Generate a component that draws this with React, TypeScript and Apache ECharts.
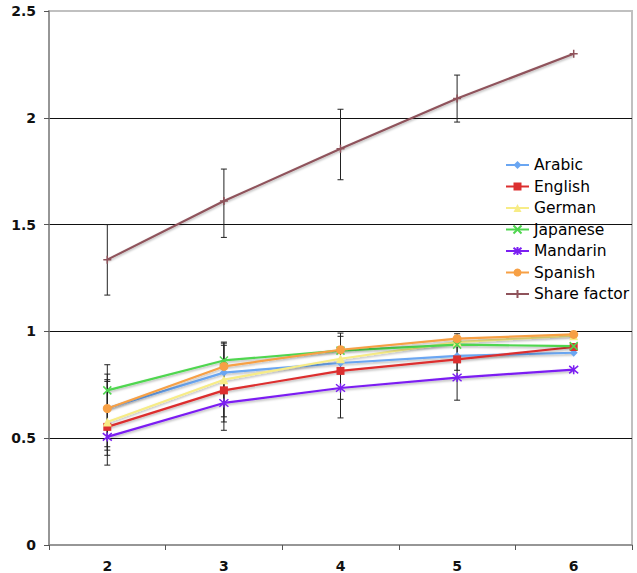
import React, { useEffect, useRef } from "react";
import * as echarts from "echarts";

const categories = ["2", "3", "4", "5", "6"];

const arabic = [0.64, 0.807, 0.852, 0.885, 0.9];
const english = [0.553, 0.724, 0.815, 0.869, 0.927];
const german = [0.576, 0.774, 0.872, 0.95, 0.98];
const japanese = [0.724, 0.864, 0.91, 0.938, 0.931];
const mandarin = [0.506, 0.665, 0.735, 0.784, 0.821];
const spanish = [0.639, 0.836, 0.914, 0.966, 0.986];
const shareFactor = [1.336, 1.61, 1.855, 2.09, 2.3];

// [category index, low, high]
const langErrorBars = [
  [0, 0.374, 0.844],
  [0, 0.42, 0.8],
  [0, 0.444, 0.774],
  [0, 0.46, 0.766],
  [1, 0.537, 0.95],
  [1, 0.576, 0.945],
  [1, 0.6, 0.935],
  [2, 0.595, 0.992],
  [2, 0.682, 0.977],
  [3, 0.678, 0.989],
  [3, 0.818, 0.97],
];
const shareErrorBars = [
  [0, 1.17, 1.5],
  [1, 1.44, 1.76],
  [2, 1.71, 2.04],
  [3, 1.98, 2.2],
];

const yTicks = { min: 0, max: 2.5, interval: 0.5 };

const CROSS = "path://M0,0L10,10M10,0L0,10";
const ASTER = "path://M0,0L10,10M10,0L0,10M5,-1L5,11";
const PLUS = "path://M0,5L10,5M5,0L5,10";

function lineSeries(name: string, data: number[], color: string, symbol: string, size: number, stroked = false) {
  return {
    name,
    type: "line",
    data,
    symbol,
    symbolSize: size,
    z: 3,
    lineStyle: {
      color,
      width: 2.2,
      shadowColor: "rgba(0,0,0,0.3)",
      shadowBlur: 2,
      shadowOffsetY: 1.5,
    },
    itemStyle: stroked
      ? { color: "rgba(0,0,0,0)", borderColor: color, borderWidth: 1.5 }
      : { color, borderWidth: 0 },
    emphasis: { disabled: true },
  };
}

function errorSeries(data: number[][]) {
  return {
    type: "custom",
    data,
    z: 2,
    silent: true,
    encode: { x: 0, y: [1, 2] },
    renderItem: (_p: any, api: any) => {
      const x = api.value(0);
      const lo = api.coord([x, api.value(1)]);
      const hi = api.coord([x, api.value(2)]);
      const w = 3;
      const style = { stroke: "#222", lineWidth: 1 };
      return {
        type: "group",
        children: [
          { type: "line", shape: { x1: lo[0], y1: lo[1], x2: hi[0], y2: hi[1] }, style },
          { type: "line", shape: { x1: lo[0] - w, y1: lo[1], x2: lo[0] + w, y2: lo[1] }, style },
          { type: "line", shape: { x1: hi[0] - w, y1: hi[1], x2: hi[0] + w, y2: hi[1] }, style },
        ],
      };
    },
  };
}

export default function App() {
  const ref = useRef<HTMLDivElement>(null);
  useEffect(() => {
    if (!ref.current) return;
    const chart = echarts.init(ref.current, null, { renderer: "svg" });
    chart.setOption({
      animation: false,
      backgroundColor: "#fff",
      textStyle: { fontFamily: "DejaVu Sans" },
      grid: {
        left: 49,
        right: 5,
        top: 11,
        bottom: 28,
        show: true,
        borderColor: "#c0c0c0",
        borderWidth: 2,
      },
      legend: {
        orient: "vertical",
        left: 500,
        top: 152,
        itemWidth: 23,
        itemHeight: 10,
        itemGap: 5.5,
        textStyle: { fontFamily: "DejaVu Sans", fontSize: 15.5, color: "#000" },
        data: ["Arabic", "English", "German", "Japanese", "Mandarin", "Spanish", "Share factor"],
      },
      xAxis: {
        type: "category",
        data: categories,
        boundaryGap: true,
        axisLine: { lineStyle: { color: "#888", width: 1.5 } },
        axisTick: { show: true, length: 5, lineStyle: { color: "#555" } },
        axisLabel: {
          margin: 14,
          fontFamily: "DejaVu Sans",
          fontWeight: "bold",
          fontSize: 14,
          color: "#111",
        },
        splitLine: { show: false },
      },
      yAxis: {
        type: "value",
        min: yTicks.min,
        max: yTicks.max,
        interval: yTicks.interval,
        axisLine: { show: true, lineStyle: { color: "#888", width: 1.5 } },
        axisTick: { show: true, length: 5, lineStyle: { color: "#555" } },
        axisLabel: {
          margin: 13,
          fontFamily: "DejaVu Sans",
          fontWeight: "bold",
          fontSize: 14,
          color: "#111",
          formatter: (v: number) => String(v),
        },
        splitLine: {
          show: true,
          showMinLine: false,
          showMaxLine: false,
          lineStyle: { color: "#111", width: 1 },
        },
      },
      series: [
        errorSeries(langErrorBars),
        errorSeries(shareErrorBars),
        lineSeries("Arabic", arabic, "#6aa6f2", "diamond", 8),
        lineSeries("English", english, "#dc2f2f", "rect", 8),
        lineSeries("German", german, "#f7ec86", "triangle", 9),
        lineSeries("Japanese", japanese, "#4fd64f", CROSS, 8, true),
        lineSeries("Mandarin", mandarin, "#7b1ff2", ASTER, 9, true),
        lineSeries("Spanish", spanish, "#f7a045", "circle", 9),
        lineSeries("Share factor", shareFactor, "#8f535b", PLUS, 8, true),
      ],
    });
    return () => chart.dispose();
  }, []);
  return (
    <div
      ref={ref}
      style={{ position: "fixed", left: 0, top: 0, width: 637, height: 573 }}
    />
  );
}
